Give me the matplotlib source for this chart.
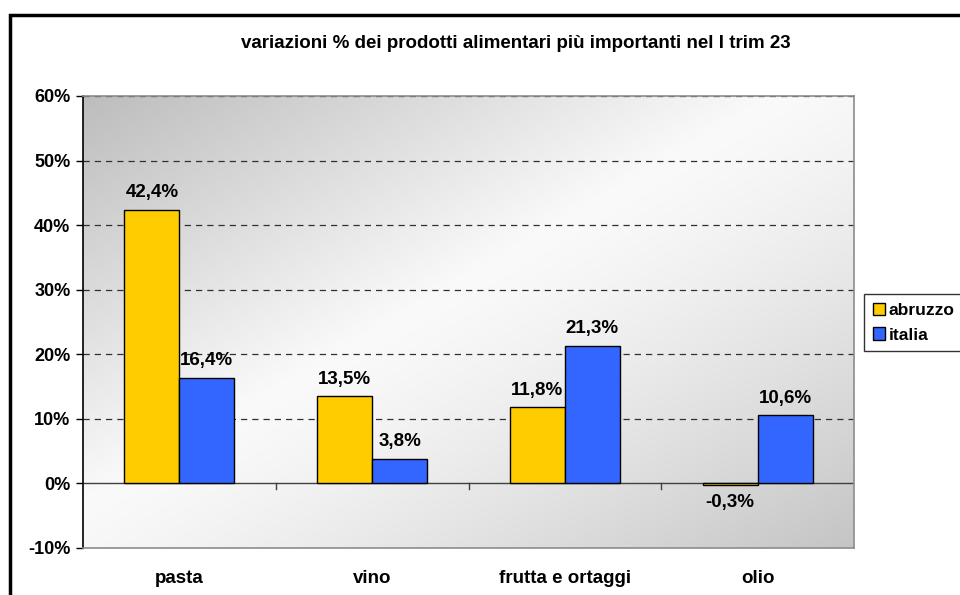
import numpy as np
import matplotlib
matplotlib.use("Agg")
from matplotlib import pyplot as plt
from matplotlib.patches import Rectangle

plt.rcParams['font.family'] = ['Liberation Sans', 'DejaVu Sans']
plt.rcParams['font.weight'] = 'bold'

categorie = ['pasta', 'vino', 'frutta e ortaggi', 'olio']
abruzzo = [42.4, 13.5, 11.8, -0.3]
italia = [16.4, 3.8, 21.3, 10.6]
serie = ['abruzzo', 'italia']
colori = ['#ffcc00', '#3366ff']
yticks = [-10, 0, 10, 20, 30, 40, 50, 60]

fig = plt.figure(figsize=(9.6, 5.95), dpi=100)
fig.patch.set_facecolor('white')

# cornice esterna
fig.patches.append(Rectangle((10 / 960, -0.1), 1.2, 1 - 15 / 595 + 0.1,
                             transform=fig.transFigure, fill=False,
                             edgecolor='black', linewidth=2.5))

ax = fig.add_axes([83 / 960, 1 - 548 / 595, 771 / 960, 452 / 595])

# sfondo sfumato
nx, ny = 300, 200
xx, yy = np.meshgrid(np.linspace(0, 1, nx), np.linspace(1, 0, ny))
t = (xx + (1 - yy)) / 2
v = np.where(t < 0.45, 0.74 + (0.98 - 0.74) * (t / 0.45),
             0.98 - (0.98 - 0.77) * ((t - 0.45) / 0.55) ** 1.3)
img = np.dstack([v, v, v])
ax.imshow(img, extent=[0, 1, 0, 1], transform=ax.transAxes, aspect='auto',
          zorder=0, origin='upper')

x = np.arange(len(categorie))
w = 0.285
ax.bar(x - w / 2, abruzzo, w, color=colori[0], edgecolor='black', linewidth=1,
       label=serie[0], zorder=3)
ax.bar(x + w / 2, italia, w, color=colori[1], edgecolor='black', linewidth=1,
       label=serie[1], zorder=3)

def etichetta(v):
    return ('%.1f%%' % v).replace('.', ',')

for i in range(len(categorie)):
    for off, val in ((-w / 2, abruzzo[i]), (w / 2, italia[i])):
        if val >= 0:
            ax.text(x[i] + off, val + 1.3, etichetta(val), ha='center', va='bottom',
                    fontsize=13.5, fontweight='bold', zorder=4)
        else:
            ax.text(x[i] + off, val - 1.3, etichetta(val), ha='center', va='top',
                    fontsize=13.5, fontweight='bold', zorder=4)

ax.set_xlim(-0.5, len(categorie) - 0.5)
ax.set_ylim(-10, 60)
ax.set_yticks(yticks)
ax.set_yticklabels(['%d%%' % v for v in yticks], fontsize=13, fontweight='bold')
ax.tick_params(axis='y', length=5, width=1, pad=4)

for yv in yticks[2:]:
    ax.axhline(yv, color='#303030', linestyle=(0, (5, 4)), linewidth=0.9, zorder=1)
ax.axhline(0, color='#404040', linewidth=1, zorder=2)
for b in np.arange(0.5, len(categorie) - 0.5, 1):
    ax.plot([b, b], [0, -0.9], color='#404040', linewidth=1, zorder=2)

ax.set_xticks(x)
ax.set_xticklabels(categorie, fontsize=13.5, fontweight='bold')
ax.tick_params(axis='x', length=0, pad=16)

ax.spines['left'].set_color('black')
ax.spines['left'].set_linewidth(1.2)
for s in ('top', 'right', 'bottom'):
    ax.spines[s].set_color('#8c8c8c')
    ax.spines[s].set_linewidth(1.2)

fig.text(516 / 960, 1 - 44 / 595, 'variazioni % dei prodotti alimentari più importanti nel I trim 23',
         ha='center', va='center', fontsize=13.5, fontweight='bold')

leg = fig.legend(loc='upper left', bbox_to_anchor=(864 / 960, 1 - 294 / 595),
                 fontsize=12.5, frameon=True, fancybox=False, edgecolor='black',
                 handlelength=0.7, handleheight=0.7, handletextpad=0.2,
                 borderpad=0.5, labelspacing=0.55, borderaxespad=0)
leg.get_frame().set_linewidth(1)
for p in leg.get_patches():
    p.set_linewidth(1)

fig.savefig('out.png', dpi=100)
